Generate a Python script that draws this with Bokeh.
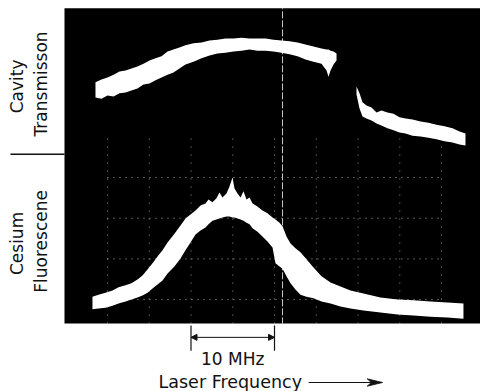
import numpy as np
from bokeh.plotting import figure
from bokeh.models import Range1d, Label, Arrow, NormalHead
from bokeh.embed import file_html
from bokeh.resources import INLINE

# Horizontal axis: laser detuning in MHz (5 MHz per graticule division).
# Vertical axis: signal in graticule divisions.

# Cavity transmission, branch before the jump (upper / lower edge of the trace band)
cav_a_mhz = [3.56, 4.28, 5.00, 5.72, 6.44, 7.16, 7.87, 8.59, 9.31, 10.03,
             10.75, 11.47, 12.19, 12.90, 13.62, 14.34, 15.30, 16.26, 17.22, 18.17,
             19.13, 20.09, 21.05, 22.01, 22.96, 23.92, 24.88, 25.84, 26.80, 27.75,
             28.71, 29.67, 30.63, 31.23, 31.47, 31.71, 32.07, 32.43]
cav_a_top = [6.34, 6.41, 6.46, 6.53, 6.61, 6.63, 6.68, 6.73, 6.80, 6.88,
             6.93, 6.98, 7.10, 7.15, 7.20, 7.25, 7.30, 7.32, 7.37, 7.39,
             7.42, 7.42, 7.44, 7.42, 7.42, 7.42, 7.39, 7.37, 7.35, 7.32,
             7.27, 7.22, 7.17, 7.15, 7.15, 7.12, 7.10, 7.05]
cav_a_bot = [5.97, 5.94, 6.02, 5.99, 6.07, 6.09, 6.14, 6.19, 6.29, 6.31,
             6.39, 6.46, 6.53, 6.58, 6.68, 6.78, 6.85, 6.93, 7.00, 7.05,
             7.07, 7.10, 7.12, 7.15, 7.12, 7.12, 7.10, 7.07, 7.03, 6.98,
             6.90, 6.85, 6.80, 6.63, 6.48, 6.63, 6.78, 6.88]

# Cavity transmission, branch after the jump
cav_b_mhz = [34.82, 35.18, 35.54, 36.02, 36.62, 37.22, 37.81, 38.53, 39.25, 39.97,
             40.69, 41.53, 42.49, 43.44, 44.40, 45.36, 46.32, 47.16, 47.87]
cav_b_top = [6.24, 6.07, 5.85, 5.77, 5.72, 5.60, 5.65, 5.60, 5.57, 5.48,
             5.45, 5.43, 5.38, 5.35, 5.30, 5.26, 5.21, 5.13, 5.08]
cav_b_bot = [6.04, 5.70, 5.50, 5.45, 5.40, 5.33, 5.28, 5.21, 5.16, 5.11,
             5.08, 5.03, 5.01, 4.98, 4.94, 4.89, 4.86, 4.81, 4.79]

# Cesium fluorescence
fl_mhz = [3.20, 3.92, 4.76, 5.60, 6.32, 7.16, 7.87, 8.59, 9.19, 9.79,
          10.39, 10.99, 11.59, 12.19, 13.02, 13.74, 14.34, 14.94, 15.54, 16.14,
          16.74, 17.10, 17.57, 18.05, 18.41, 18.77, 19.25, 19.61, 19.97, 20.21,
          20.57, 20.93, 21.29, 21.65, 22.01, 22.37, 22.96, 23.56, 24.16, 24.76,
          25.12, 25.60, 25.96, 26.44, 26.92, 27.51, 28.11, 28.83, 29.67, 30.63,
          31.71, 32.90, 34.10, 35.66, 37.69, 39.73, 41.65, 43.68, 45.72, 47.63]
fl_top = [1.07, 1.12, 1.17, 1.22, 1.30, 1.35, 1.40, 1.49, 1.59, 1.74,
          1.89, 2.06, 2.21, 2.40, 2.62, 2.82, 2.99, 3.09, 3.19, 3.31,
          3.36, 3.46, 3.39, 3.49, 3.63, 3.51, 3.61, 3.78, 4.00, 3.73,
          3.61, 3.51, 3.66, 3.46, 3.51, 3.36, 3.29, 3.19, 3.12, 3.02,
          2.97, 2.89, 2.80, 2.55, 2.38, 2.26, 2.16, 1.99, 1.79, 1.57,
          1.42, 1.32, 1.22, 1.15, 1.05, 1.00, 0.98, 0.95, 0.93, 0.90]
fl_bot = [0.76, 0.78, 0.80, 0.85, 0.90, 0.95, 1.00, 1.05, 1.10, 1.17,
          1.27, 1.37, 1.47, 1.64, 1.81, 2.01, 2.21, 2.40, 2.60, 2.70,
          2.77, 2.85, 2.94, 2.97, 2.99, 3.02, 3.04, 3.04, 3.02, 3.02,
          2.99, 2.97, 2.94, 2.89, 2.85, 2.75, 2.67, 2.55, 2.43, 2.28,
          1.89, 1.81, 1.76, 1.57, 1.40, 1.25, 1.12, 1.07, 1.03, 0.95,
          0.90, 0.83, 0.78, 0.73, 0.68, 0.63, 0.61, 0.58, 0.56, 0.53]

# Graticule and reference marks
grid_mhz = [5, 10, 15, 20, 25, 30, 35, 40, 45]
grid_div = [1, 2, 3, 4]
marker_mhz = 25.96
scale_start_mhz = 15
scale_span_mhz = 10

# Extent of the scope screen
screen_left, screen_right = -0.15, 49.8
screen_bottom, screen_top = 0.41, 8.16

FONT = "DejaVu Sans"
INK = "#111111"

p = figure(width=480, height=391,
           x_range=Range1d(-7.814, 49.67), y_range=Range1d(-1.261, 8.353),
           output_backend="svg", toolbar_location=None,
           x_axis_location=None, y_axis_location=None, min_border=0)
p.grid.visible = False
p.outline_line_color = None
p.background_fill_color = "white"
p.border_fill_color = "white"

# scope screen
p.quad(left=[screen_left], right=[screen_right], bottom=[screen_bottom], top=[screen_top],
       fill_color="black", line_color=None)

# faint dotted graticule
p.multi_line(xs=[[grid_mhz[0], grid_mhz[-1]] for _ in grid_div],
             ys=[[d, d] for d in grid_div],
             line_color="#cfcfcf", line_width=1, line_dash="1 5", line_alpha=0.8)
p.multi_line(xs=[[m, m] for m in grid_mhz],
             ys=[[screen_bottom, 5.0] for _ in grid_mhz],
             line_color="#cfcfcf", line_width=1, line_dash="1 7", line_alpha=0.7)

# vertical reference line
p.line(x=[marker_mhz, marker_mhz], y=[screen_bottom - 0.02, screen_top],
       line_color="#c8c8c8", line_width=1, line_dash="7 2")

# traces
p.varea(x=cav_a_mhz, y1=cav_a_bot, y2=cav_a_top, fill_color="white")
p.varea(x=cav_b_mhz, y1=cav_b_bot, y2=cav_b_top, fill_color="white")
p.varea(x=fl_mhz, y1=fl_bot, y2=fl_top, fill_color="white")

# side labels
for x, y, t in [(-5.84, 6.24, "Cavity"), (-3.02, 6.30, "Transmisson"),
                (-5.84, 2.38, "Cesium"), (-3.02, 2.43, "Fluorescene")]:
    p.add_layout(Label(x=x, y=y, text=t, angle=np.pi / 2, text_align="center",
                       text_baseline="middle", text_font=FONT,
                       text_font_size="17px", text_color=INK))
p.line(x=[-6.62, screen_left], y=[4.57, 4.57], line_color=INK, line_width=1.5)

# 10 MHz scale bar
scale_end = scale_start_mhz + scale_span_mhz
p.segment(x0=[scale_start_mhz, scale_end], y0=[0.36, 0.36],
          x1=[scale_start_mhz, scale_end], y1=[-0.26, -0.26],
          line_color=INK, line_width=1.2)
p.add_layout(Arrow(x_start=scale_start_mhz, x_end=scale_end, y_start=0.07, y_end=0.07,
                   line_color=INK, line_width=1,
                   start=NormalHead(size=6, fill_color=INK, line_color=INK),
                   end=NormalHead(size=6, fill_color=INK, line_color=INK)))
p.add_layout(Label(x=scale_start_mhz + scale_span_mhz / 2, y=-0.46, text="10 MHz",
                   text_align="center", text_baseline="middle", text_font=FONT,
                   text_font_size="17px", text_color=INK))

# axis caption with arrow
p.add_layout(Label(x=11.11, y=-1.03, text="Laser Frequency", text_align="left",
                   text_baseline="middle", text_font=FONT,
                   text_font_size="17.5px", text_color=INK))
p.line(x=[29.1, 36.7], y=[-1.04, -1.04], line_color=INK, line_width=1.2)
p.patch(x=[37.95, 36.1, 36.6, 36.1], y=[-1.04, -0.95, -1.04, -1.13],
        fill_color=INK, line_color=INK, line_width=0.8)

open("out.html", "w").write(file_html(p, INLINE))
